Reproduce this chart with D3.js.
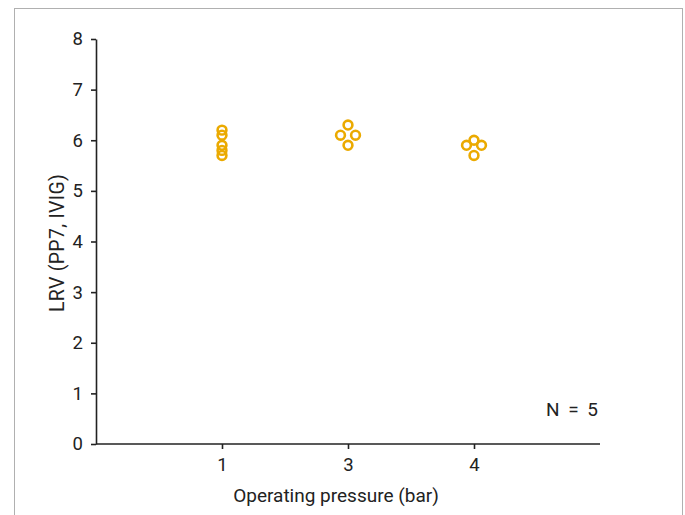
<!DOCTYPE html>
<html><head><meta charset="utf-8">
<script src="https://cdn.jsdelivr.net/npm/d3@7"></script>
<style>body{margin:0;background:#fff}svg{display:block}text{font-family:"Roboto","DejaVu Sans Condensed",sans-serif;fill:#222}</style>
</head><body>
<script>
const categories = ["1", "3", "4"];
const values1 = [6.2, 6.1, 5.9, 5.8, 5.7];
const values3 = [6.3, 6.1, 6.1, 5.9];
const values4 = [6.0, 5.9, 5.9, 5.7];
const yTicks = [0, 1, 2, 3, 4, 5, 6, 7, 8];
const seriesValues = [values1, values3, values4];

(function () {
const W = 685, H = 515;
const svg = d3.select("body").append("svg").attr("width", W).attr("height", H);
svg.append("rect").attr("x", 14.5).attr("y", 8.5).attr("width", 668).attr("height", 530)
  .attr("fill", "none").attr("stroke", "#b0b0b0").attr("stroke-width", 1);

const mLeft = 96, mRight = 600, mTop = 39, mBottom = 444;
const x = d3.scalePoint().domain(categories).range([mLeft, mRight]).padding(1);
const y = d3.scaleLinear().domain([0, 8]).range([mBottom, mTop]);

const yAx = svg.append("g").attr("transform", `translate(${mLeft},0)`)
  .call(d3.axisLeft(y).tickValues(yTicks).tickSize(5).tickPadding(8).tickSizeOuter(0));
const xAx = svg.append("g").attr("transform", `translate(0,${mBottom})`)
  .call(d3.axisBottom(x).tickSize(5).tickPadding(9).tickSizeOuter(0));
[yAx, xAx].forEach(g => {
  g.select(".domain").attr("stroke", "#222").attr("stroke-width", 1.6);
  g.selectAll(".tick line").attr("stroke", "#222").attr("stroke-width", 1.6);
  g.selectAll("text").attr("font-size", 18.5).attr("fill", "#222")
    .style("font-family", '"Roboto",sans-serif');
});
xAx.select(".domain").attr("d", `M${mLeft},0H${mRight}`);

const pts = [];
seriesValues.forEach((vals, gi) => {
  const counts = d3.rollup(vals, v => v.length, d => d);
  const seen = new Map();
  vals.forEach(v => {
    const k = counts.get(v), i = seen.get(v) || 0; seen.set(v, i + 1);
    pts.push({cat: categories[gi], v, off: (i - (k - 1) / 2) * 15});
  });
});
svg.append("g").selectAll("circle").data(pts).join("circle")
  .attr("cx", d => x(d.cat) + d.off).attr("cy", d => y(d.v)).attr("r", 4.4)
  .attr("fill", "none").attr("stroke", "#EBAA00").attr("stroke-width", 2.6);

svg.append("text").attr("x", 336).attr("y", 502).attr("text-anchor", "middle")
  .attr("font-size", 19).text("Operating pressure (bar)");
svg.append("text").attr("transform", "translate(64,243) rotate(-90)").attr("text-anchor", "middle")
  .attr("font-size", 19.5).attr("letter-spacing", 0.3).text("LRV (PP7, IVIG)");
svg.append("text").attr("x", 598).attr("y", 416).attr("text-anchor", "end")
  .attr("font-size", 19).attr("word-spacing", 4).text("N = 5");
})();
</script>
</body></html>
